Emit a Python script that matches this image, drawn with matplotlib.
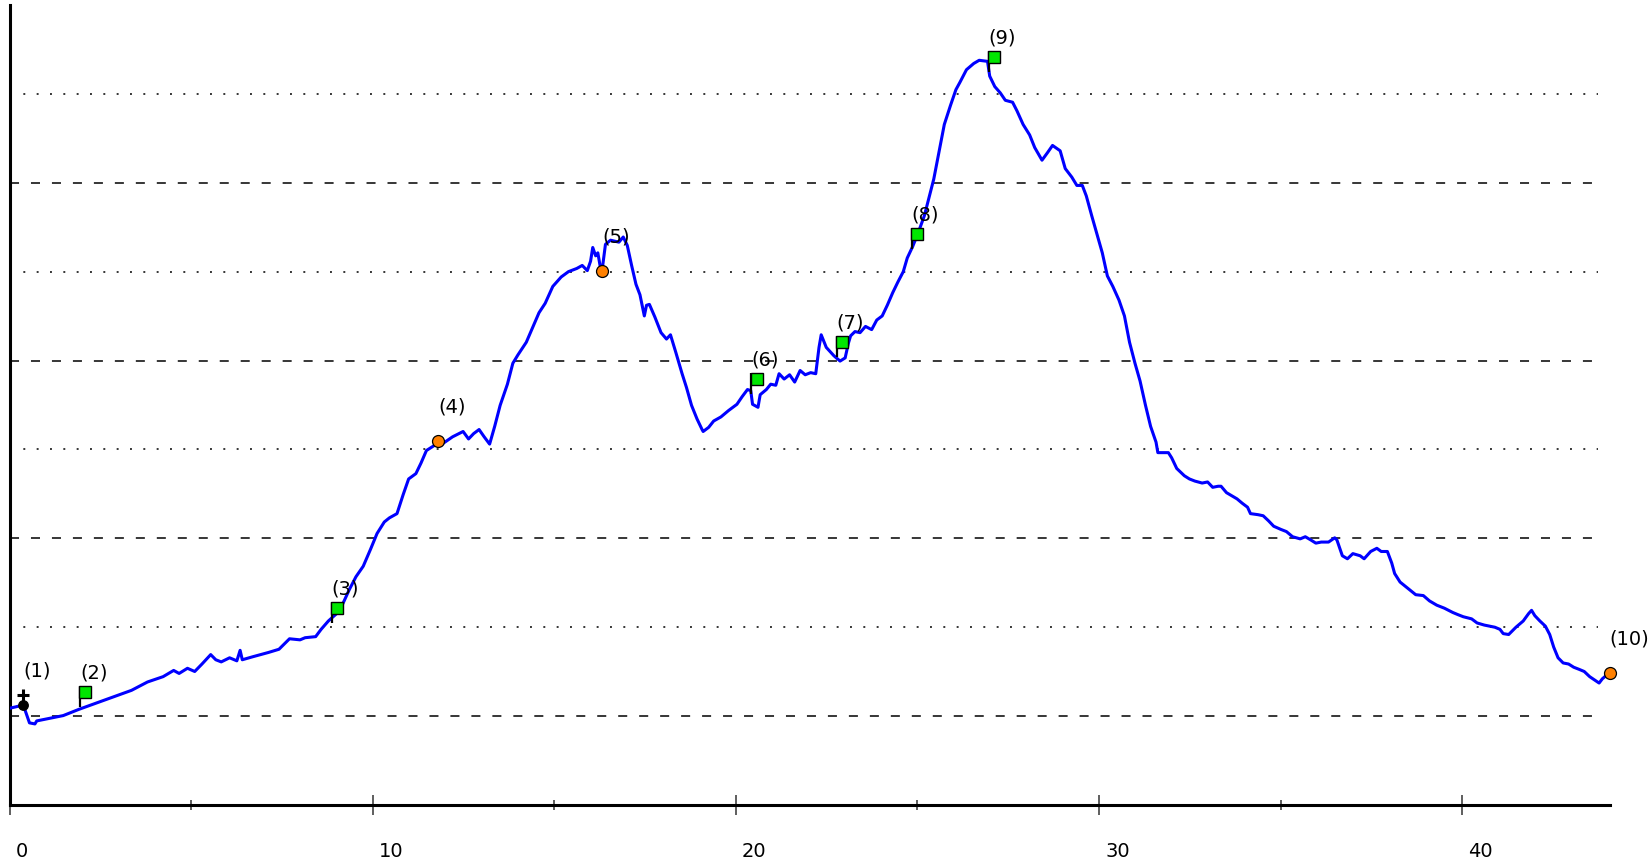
import matplotlib
matplotlib.use("Agg")
import matplotlib.pyplot as plt
from matplotlib.path import Path
from matplotlib.transforms import offset_copy, ScaledTranslation

plt.rcParams['font.family'] = ['DejaVu Sans']
plt.rcParams['lines.scale_dashes'] = False

# Distance (km) and elevation (m) of the profile
dist = [0.00, 0.38, 0.55, 0.70, 0.75, 1.48, 1.91, 2.64, 3.36, 3.80, 4.23, 4.52, 4.67, 4.90,
        5.10, 5.30, 5.54, 5.68, 5.83, 6.06, 6.26, 6.35, 6.41, 6.70, 7.13, 7.42, 7.71, 8.00,
        8.14, 8.43, 8.58, 8.78, 9.01, 9.16, 9.36, 9.54, 9.74, 9.94, 10.12, 10.32, 10.46,
        10.67, 10.84, 10.99, 11.19, 11.33, 11.48, 11.71, 11.91, 12.20, 12.49, 12.64, 12.78,
        12.93, 13.07, 13.22, 13.36, 13.51, 13.71, 13.86, 14.00, 14.23, 14.38, 14.58, 14.75,
        14.96, 15.19, 15.39, 15.62, 15.77, 15.91, 16.00, 16.06, 16.14, 16.20, 16.26, 16.32,
        16.41, 16.55, 16.78, 16.90, 17.01, 17.13, 17.25, 17.36, 17.48, 17.54, 17.62, 17.77,
        17.94, 18.09, 18.20, 18.35, 18.52, 18.64, 18.78, 18.93, 19.07, 19.10, 19.25, 19.39,
        19.59, 19.80, 20.03, 20.17, 20.32, 20.41, 20.46, 20.61, 20.67, 20.84, 20.96, 21.10,
        21.19, 21.33, 21.48, 21.62, 21.77, 21.91, 22.06, 22.20, 22.29, 22.35, 22.49, 22.70,
        22.87, 23.01, 23.10, 23.16, 23.28, 23.42, 23.57, 23.74, 23.88, 24.03, 24.17, 24.32,
        24.46, 24.61, 24.72, 24.87, 25.01, 25.19, 25.30, 25.45, 25.59, 25.74, 25.91, 26.06,
        26.17, 26.35, 26.55, 26.70, 26.93, 26.99, 27.13, 27.28, 27.42, 27.62, 27.74, 27.91,
        28.09, 28.23, 28.43, 28.58, 28.72, 28.93, 29.07, 29.25, 29.39, 29.54, 29.65, 29.80,
        29.94, 30.09, 30.23, 30.38, 30.55, 30.70, 30.84, 30.99, 31.13, 31.28, 31.42, 31.57,
        31.62, 31.77, 31.91, 32.00, 32.14, 32.35, 32.49, 32.64, 32.84, 32.99, 33.13, 33.28,
        33.36, 33.51, 33.65, 33.80, 33.94, 34.09, 34.17, 34.38, 34.52, 34.67, 34.81, 35.01,
        35.16, 35.33, 35.54, 35.68, 35.83, 35.97, 36.12, 36.32, 36.49, 36.55, 36.70, 36.84,
        36.99, 37.19, 37.30, 37.48, 37.65, 37.77, 37.94, 38.06, 38.14, 38.29, 38.43, 38.58,
        38.72, 38.93, 39.10, 39.30, 39.51, 39.74, 39.88, 40.03, 40.26, 40.41, 40.61, 40.75,
        40.90, 41.04, 41.13, 41.28, 41.48, 41.68, 41.83, 41.91, 42.00, 42.14, 42.29, 42.41,
        42.52, 42.64, 42.78, 42.93, 43.07, 43.22, 43.36, 43.51, 43.68, 43.77, 43.86, 44.03]
elev = [154.4, 156.2, 146.2, 145.6, 147.3, 150.3, 153.8, 159.2, 164.5, 169.2, 172.2, 175.7,
        174.0, 176.9, 175.1, 179.3, 184.6, 181.7, 180.5, 182.8, 181.1, 187.0, 181.7, 183.4,
        185.8, 187.6, 193.5, 192.9, 194.1, 194.7, 198.8, 203.5, 207.7, 212.4, 221.3, 228.4,
        234.3, 243.8, 252.7, 259.2, 261.5, 263.9, 274.6, 283.4, 286.4, 292.3, 299.4, 302.4,
        303.0, 307.1, 310.1, 305.9, 308.9, 311.2, 307.1, 303.0, 313.0, 324.8, 336.7, 348.5,
        353.2, 360.3, 367.4, 376.9, 382.2, 391.7, 397.0, 400.0, 401.8, 403.5, 400.6, 405.9,
        413.6, 408.9, 410.6, 403.5, 401.2, 415.4, 417.7, 416.6, 419.5, 414.8, 403.5, 392.9,
        387.0, 375.1, 381.1, 381.6, 374.5, 365.7, 362.1, 364.5, 354.4, 342.6, 334.9, 324.8,
        317.2, 311.2, 310.1, 312.4, 316.0, 318.3, 321.9, 325.4, 329.6, 333.7, 333.1, 325.4,
        323.7, 330.8, 333.7, 336.7, 336.1, 342.6, 339.6, 342.0, 337.9, 344.4, 342.0, 343.2,
        342.6, 357.4, 364.5, 357.4, 352.7, 349.7, 351.5, 359.8, 363.9, 366.3, 365.7, 369.2,
        367.4, 372.8, 375.1, 381.1, 388.2, 394.1, 400.0, 407.7, 414.2, 421.3, 431.4, 440.2,
        452.1, 466.9, 482.8, 493.5, 502.4, 506.5, 513.6, 517.1, 518.9, 518.3, 510.0, 504.1,
        500.6, 496.4, 495.3, 490.5, 482.8, 476.9, 469.8, 462.7, 466.9, 471.0, 468.0, 458.0,
        453.2, 448.5, 448.5, 442.6, 431.4, 421.3, 410.6, 397.6, 391.7, 384.0, 375.1, 360.3,
        348.5, 338.5, 324.8, 313.0, 304.1, 298.2, 298.2, 298.2, 295.3, 289.3, 285.2, 283.4,
        282.2, 281.1, 281.7, 278.7, 279.3, 279.3, 275.7, 274.0, 272.2, 269.8, 267.5, 263.9,
        263.3, 262.7, 259.8, 256.8, 255.0, 253.8, 250.9, 249.7, 250.9, 249.1, 247.3, 247.9,
        247.9, 250.3, 249.1, 240.2, 238.5, 241.4, 240.2, 238.5, 242.6, 244.4, 242.6, 242.6,
        236.1, 230.2, 225.4, 223.1, 220.7, 218.3, 217.8, 214.8, 212.4, 210.7, 208.3, 207.1,
        205.9, 204.7, 202.4, 201.2, 200.6, 200.0, 198.8, 196.4, 195.9, 200.0, 203.5, 207.7,
        209.5, 206.5, 203.5, 200.6, 195.9, 188.8, 182.8, 179.9, 179.3, 177.5, 176.3, 175.1,
        172.2, 169.8, 168.6, 171.0, 174.0]

# Waypoints
wp_labels = ["(1)", "(2)", "(3)", "(4)", "(5)", "(6)", "(7)", "(8)", "(9)", "(10)"]
wp_dist = [0.38, 1.94, 8.87, 11.80, 16.32, 20.43, 22.78, 24.84, 26.96, 44.06]
wp_elev = [156.5, 155.0, 202.4, 304.7, 400.6, 331.4, 352.1, 413.0, 512.4, 174.0]
wp_kind = ["start", "flag", "flag", "dot", "dot", "flag", "flag", "flag", "flag", "dot"]

grid_levels = [150, 200, 250, 300, 350, 400, 450, 500]
xticks_major = [0, 10, 20, 30, 40]
xticks_minor = [5, 15, 25, 35]

fig = plt.figure(figsize=(16.5, 8.64), dpi=100)
ax = fig.add_axes([9.5 / 1650, 1 - 805 / 864, (1610 - 9.5) / 1650, 800 / 864])
ax.set_xlim(0, 44.07)
ax.set_ylim(100, 550)

# grid lines: dashed / dotted alternating
for i, g in enumerate(grid_levels):
    ls = (0, (6.5, 8.6)) if i % 2 == 0 else (0, (1.4, 8.2))
    ax.plot([0, 43.75], [g, g], color='black', lw=1.1, linestyle=ls, zorder=1,
            solid_capstyle='butt', dash_capstyle='butt')

ax.plot(dist, elev, color='#0000ff', lw=2.2, zorder=3, solid_joinstyle='round')

pole = Path([(0, 0), (0, 1)], [Path.MOVETO, Path.LINETO])
for lab, x, y, kind in zip(wp_labels, wp_dist, wp_elev, wp_kind):
    if kind == "flag":
        ax.plot([x], [y], marker=pole, ms=30, mew=1.6, color='black', zorder=4)
        tr = offset_copy(ax.transData, fig=fig, x=5.5, y=15, units='dots')
        ax.plot([x], [y], marker='s', ms=8, mfc='#00e600', mec='black', mew=1.0,
                transform=tr, zorder=5, clip_on=False)
    elif kind == "dot":
        ax.plot([x], [y], marker='o', ms=8.6, mfc='#ff8000', mec='black', mew=0.9,
                zorder=5, clip_on=False)
    else:
        ax.plot([x], [y], marker='o', ms=6.8, mfc='black', mec='black', zorder=5)
        tr = offset_copy(ax.transData, fig=fig, x=0, y=10, units='dots')
        ax.plot([x], [y], marker='+', ms=8, mew=2.2, color='black', transform=tr, zorder=5)
    ax.annotate(lab, (x, y), xytext=(0, 24.5), textcoords='offset points',
                ha='left', va='center', fontsize=14, color='black',
                annotation_clip=False, zorder=6)

for s in ['top', 'right']:
    ax.spines[s].set_visible(False)
for s in ['left', 'bottom']:
    ax.spines[s].set_linewidth(2.2)
    ax.spines[s].set_color('black')

ax.set_yticks([])
ax.set_xticks(xticks_major)
ax.set_xticks(xticks_minor, minor=True)
ax.set_xticklabels([str(t) for t in xticks_major])
ax.tick_params(axis='x', which='major', direction='inout', length=15, width=1.1,
               color='#333333', pad=19, labelsize=14)
ax.tick_params(axis='x', which='minor', direction='inout', length=7.2, width=1.1,
               color='#333333')
for lbl in ax.get_xticklabels():
    lbl.set_horizontalalignment('left')
    lbl.set_transform(lbl.get_transform() + ScaledTranslation(6 / 100, 0, fig.dpi_scale_trans))

fig.savefig("out.png", dpi=100)
